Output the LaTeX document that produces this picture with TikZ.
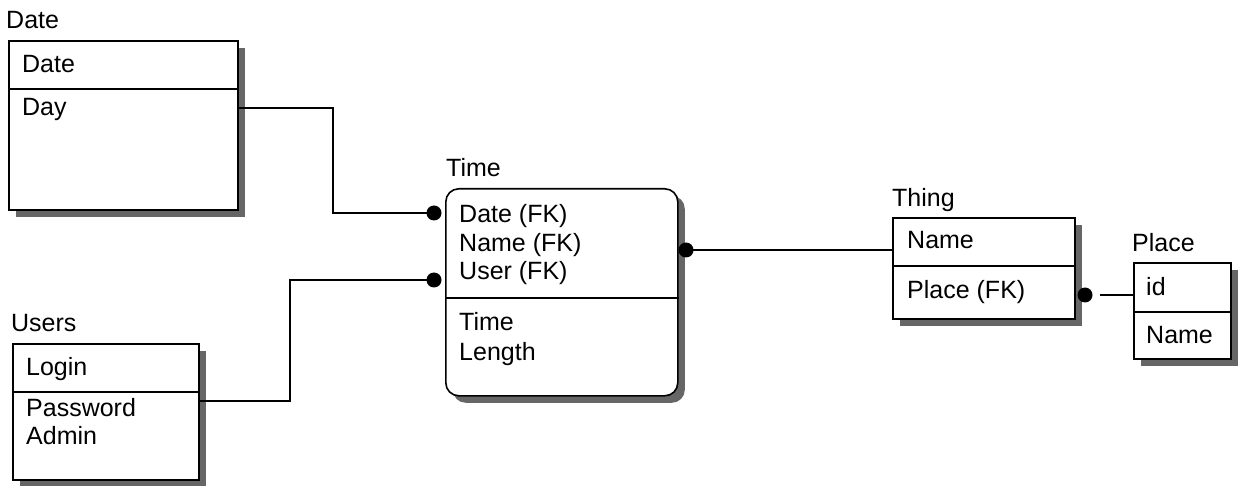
\documentclass[tikz,border=0pt]{standalone}
\usepackage{fontspec}
\setmainfont{Liberation Sans}
\usetikzlibrary{shadows}
\begin{document}
\begin{tikzpicture}[x=1pt,y=-1pt,
  ent/.style={draw, line width=1.6pt, fill=white, anchor=north west, inner sep=0pt,
    drop shadow={shadow xshift=7pt, shadow yshift=-7pt, fill=black!60, opacity=1}},
  div/.style={line width=1.6pt},
  lbl/.style={anchor=base west, inner sep=0pt, font=\fontsize{25}{30}\selectfont},
  conn/.style={line width=1.5pt},
  dotc/.style={fill=black}
]
\useasboundingbox (0,0) rectangle (1240,486);

% ---- Date ----
\node[ent, minimum width=229pt, minimum height=169pt] (date) at (8,40) {};
\draw[div] (date.west |- 0,89) -- (date.east |- 0,89);
\node[lbl] (datet) at (6,29) {Date};
\node[lbl] (date1) at (22,73) {Date};
\node[lbl] (date2) at (22,116) {Day};

% ---- Users ----
\node[ent, minimum width=186pt, minimum height=136pt] (users) at (12,343) {};
\draw[div] (users.west |- 0,392) -- (users.east |- 0,392);
\node[lbl] (userst) at (11,332) {Users};
\node[lbl] (users1) at (26,375) {Login};
\node[lbl] (users2) at (26,416) {Password};
\node[lbl] (users3) at (26,444) {Admin};

% ---- Time ----
\node[ent, rounded corners=13pt, minimum width=232pt, minimum height=207pt] (time) at (445,188) {};
\draw[div] (time.west |- 0,298) -- (time.east |- 0,298);
\node[lbl] (timet) at (446,177) {Time};
\node[lbl] (time1) at (459,223) {Date (FK)};
\node[lbl] (time2) at (459,252) {Name (FK)};
\node[lbl] (time3) at (459,280) {User (FK)};
\node[lbl] (time4) at (459,331) {Time};
\node[lbl] (time5) at (459,360) {Length};

% ---- Thing ----
\node[ent, minimum width=182pt, minimum height=101pt] (thing) at (892,217) {};
\draw[div] (thing.west |- 0,266) -- (thing.east |- 0,266);
\node[lbl] (thingt) at (892,207) {Thing};
\node[lbl] (thing1) at (907,249) {Name};
\node[lbl] (thing2) at (907,299) {Place (FK)};

% ---- Place ----
\node[ent, minimum width=97pt, minimum height=96pt] (place) at (1133,262) {};
\draw[div] (place.west |- 0,312) -- (place.east |- 0,312);
\node[lbl] (placet) at (1132,252) {Place};
\node[lbl] (place1) at (1146,296) {id};
\node[lbl] (place2) at (1146,344) {Name};

% ---- connectors ----
\coordinate (dateport) at (237,108);
\coordinate (userport) at (198,401);
\coordinate (tin1) at (434,213);
\coordinate (tin2) at (434,280);
\coordinate (tout) at (686,250);
\coordinate (thdot) at (1085,295);

\draw[conn] (dateport) -- ++(96,0) |- (tin1);
\draw[conn] (userport) -- ++(92,0) |- (tin2);
\draw[conn] (tout) -- (thing.west |- tout);
\draw[conn, shorten <=15pt] (thdot) -- (place.west |- thdot);

\fill[dotc] (tin1) circle (7.5pt);
\fill[dotc] (tin2) circle (7.5pt);
\fill[dotc] (tout) circle (7.5pt);
\fill[dotc] (thdot) circle (7.5pt);
\end{tikzpicture}
\end{document}
